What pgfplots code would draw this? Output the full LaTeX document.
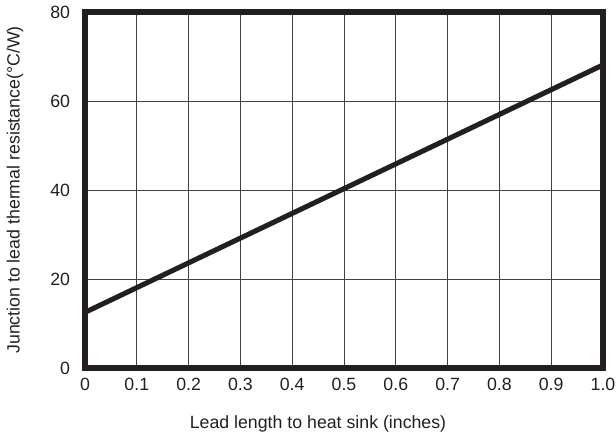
\documentclass[border=0pt]{standalone}
\usepackage{pgfplots}
\pgfplotsset{compat=1.18}
\usepackage{fontspec}
\setmainfont{Liberation Sans}
\definecolor{ink}{HTML}{231F20}
\begin{document}
\begin{tikzpicture}[x=0.75pt,y=0.75pt]
\begin{axis}[
  name=ax,
  scale only axis,
  width=388.5pt, height=267pt,
  xmin=0, xmax=1.0, ymin=0, ymax=80,
  xtick={0,0.1,...,1.0},
  xticklabels={0,0.1,0.2,0.3,0.4,0.5,0.6,0.7,0.8,0.9,1.0},
  ytick={0,20,40,60,80},
  grid=major,
  major grid style={color=ink!85, line width=0.6pt},
  axis line style={color=ink, line width=3.8pt},
  tick style={draw=none},
  ticklabel style={font=\fontsize{13.3}{15}\selectfont, text=ink, inner sep=0pt},
  xticklabel style={anchor=center, yshift=-12pt},
  yticklabel style={anchor=east, xshift=-11pt},
  /pgf/number format/assume math mode=true,
  xlabel={Lead length to heat sink (inches)},
  ylabel={Junction to lead thermal resistance(°C/W)},
  label style={font=\fontsize{13.3}{15}\selectfont, text=ink},
  xlabel style={at={(axis description cs:0.5,0)}, anchor=center, xshift=-19.5pt, yshift=-42pt},
  ylabel style={at={(axis description cs:0,0.5)}, anchor=center, rotate=0, xshift=0pt, yshift=52.5pt},
  clip=false,
]
\addplot[color=ink, line width=3.8pt] coordinates {(0,12.5) (1.0,68.1)};
\end{axis}
\pgfresetboundingbox
\path ([shift={(-85,-70)}]ax.south west) rectangle ([shift={(13,12)}]ax.north east);
\end{tikzpicture}
\end{document}
